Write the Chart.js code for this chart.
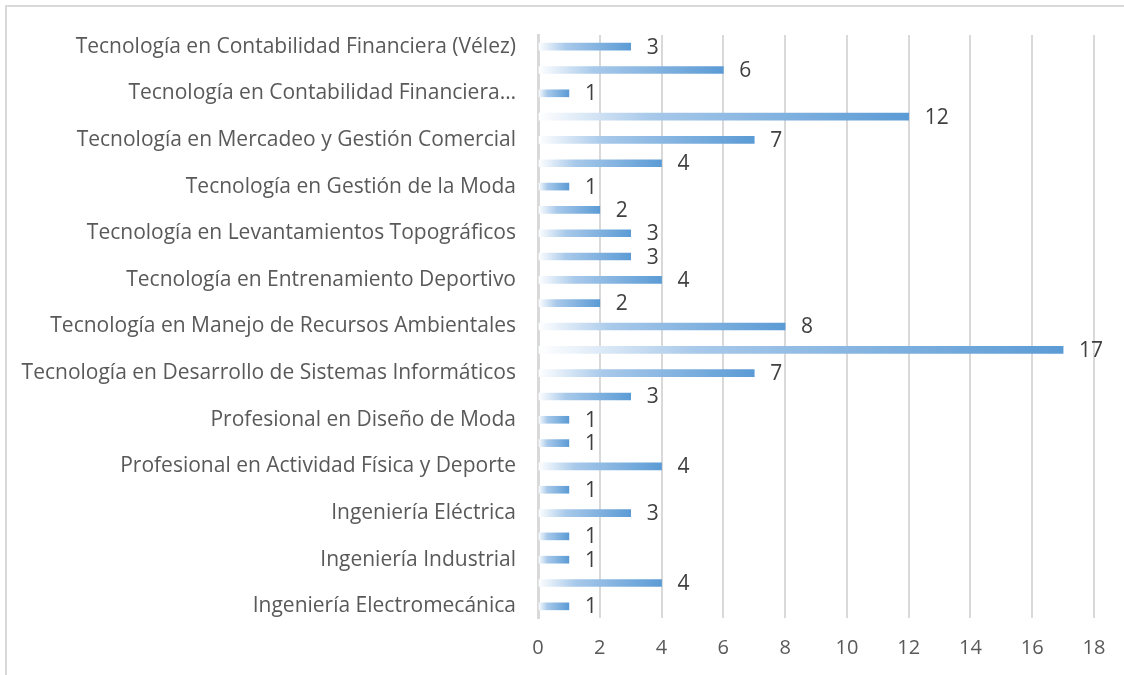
<!DOCTYPE html>
<html>
<head>
<meta charset="utf-8">
<script src="https://cdn.jsdelivr.net/npm/chart.js@4/dist/chart.umd.min.js"></script>
<style>
  html, body { margin: 0; padding: 0; background: #fff; }
  #wrap { position: relative; width: 1124px; height: 675px; }
  #frame { position: absolute; left: 5px; top: 5px; right: 0; bottom: 0;
           border-top: 2px solid #d9d9d9; border-left: 2px solid #d9d9d9; }
  #chart { position: absolute; left: 0; top: 0; }
</style>
</head>
<body>
<div id="wrap">
  <div id="frame"></div>
  <canvas id="chart" width="1124" height="675"></canvas>
</div>
<script>
// programas (solo se ven las etiquetas alternas en el original)
const programas = [
  'Tecnología en Contabilidad Financiera (Vélez)',
  '',
  'Tecnología en Contabilidad Financiera…',
  '',
  'Tecnología en Mercadeo y Gestión Comercial',
  '',
  'Tecnología en Gestión de la Moda',
  '',
  'Tecnología en Levantamientos Topográficos',
  '',
  'Tecnología en Entrenamiento Deportivo',
  '',
  'Tecnología en Manejo de Recursos Ambientales',
  '',
  'Tecnología en Desarrollo de Sistemas Informáticos',
  '',
  'Profesional en Diseño de Moda',
  '',
  'Profesional en Actividad Física y Deporte',
  '',
  'Ingeniería Eléctrica',
  '',
  'Ingeniería Industrial',
  '',
  'Ingeniería Electromecánica'
];

const cantidades = [3, 6, 1, 12, 7, 4, 1, 2, 3, 3, 4, 2, 8, 17, 7, 3, 1, 1, 4, 1, 3, 1, 1, 4, 1];

const xMin = 0;
const xMax = 18;
const xStep = 2;

const FONT = '"Open Sans", sans-serif';

// degradado blanco -> azul a lo largo de cada barra
function barGradient(ctx) {
  const chart = ctx.chart;
  const x = chart.scales && chart.scales.x;
  if (!x || !chart.chartArea || ctx.raw === undefined) return '#5b9bd5';
  const x0 = x.getPixelForValue(0);
  const x1 = x.getPixelForValue(ctx.raw);
  if (!isFinite(x0) || !isFinite(x1) || x1 <= x0) return '#5b9bd5';
  const g = chart.ctx.createLinearGradient(x0, 0, x1, 0);
  g.addColorStop(0, '#ffffff');
  g.addColorStop(0.3, '#a8c9ea');
  g.addColorStop(1, '#5b9bd5');
  return g;
}

// etiquetas de valor a la derecha de cada barra
const valueLabels = {
  id: 'valueLabels',
  afterDatasetsDraw(chart) {
    const c = chart.ctx;
    const meta = chart.getDatasetMeta(0);
    c.save();
    c.font = '21px ' + FONT;
    c.fillStyle = '#404040';
    c.textAlign = 'left';
    c.textBaseline = 'middle';
    meta.data.forEach((bar, i) => {
      c.fillText(String(cantidades[i]), bar.x + 16, bar.y + 1);
    });
    c.restore();
  }
};

new Chart(document.getElementById('chart'), {
  type: 'bar',
  data: {
    labels: programas,
    datasets: [{
      data: cantidades,
      backgroundColor: barGradient,
      barThickness: 7,
      borderWidth: 0
    }]
  },
  options: {
    indexAxis: 'y',
    responsive: false,
    animation: false,
    events: [],
    layout: { padding: { top: 35, right: 30, left: 0, bottom: 0 } },
    plugins: {
      legend: { display: false },
      tooltip: { enabled: false }
    },
    scales: {
      x: {
        min: xMin,
        max: xMax,
        ticks: {
          stepSize: xStep,
          color: '#595959',
          font: { family: FONT, size: 20 },
          padding: 18
        },
        grid: { color: '#d9d9d9', lineWidth: 2, drawTicks: false },
        border: { display: false },
        afterFit(scale) { scale.height = 57; }
      },
      y: {
        ticks: {
          autoSkip: false,
          color: '#595959',
          font: { family: FONT, size: 21 },
          padding: 22
        },
        grid: { display: false, drawTicks: false },
        border: { display: true, color: '#d9d9d9', width: 3 },
        afterFit(scale) { scale.width = 538; }
      }
    }
  },
  plugins: [valueLabels]
});
</script>
</body>
</html>
